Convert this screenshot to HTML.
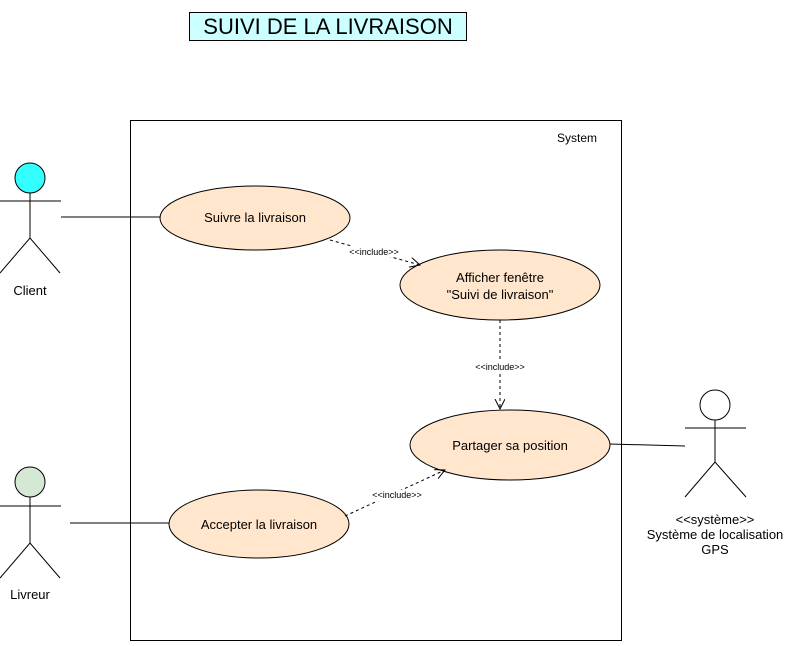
<!DOCTYPE html>
<html><head><meta charset="utf-8"><style>
body{margin:0;background:#fff;width:789px;height:641px;overflow:hidden}
svg{font-family:"Liberation Sans",Arial,sans-serif}
</style></head><body>
<svg width="789" height="641" xmlns="http://www.w3.org/2000/svg">
<defs><marker id="a" markerWidth="12" markerHeight="12" refX="10" refY="5" orient="auto" markerUnits="userSpaceOnUse"><path d="M0,0 L10,5 L0,10" fill="none" stroke="#000" stroke-width="1"/></marker></defs>
<rect x="189.5" y="12.5" width="277" height="28" fill="#ccffff" stroke="#000"/>
<text x="328" y="34" font-size="22" text-anchor="middle">SUIVI DE LA LIVRAISON</text>
<rect x="130.5" y="120.5" width="491" height="520" fill="none" stroke="#000"/>
<text x="597" y="142" font-size="12" text-anchor="end">System</text>
<g stroke="#000" fill="none" stroke-width="1">
<circle cx="30" cy="178" r="15" fill="#33ffff"/>
<line x1="0" y1="201" x2="61" y2="201"/><line x1="30" y1="193" x2="30" y2="238"/>
<polyline points="0,273 30,238 60,273"/>
<circle cx="30" cy="482" r="15" fill="#d5e8d4"/>
<line x1="0" y1="506" x2="61" y2="506"/><line x1="30" y1="497" x2="30" y2="543"/>
<polyline points="0,578 30,543 60,578"/>
<circle cx="715" cy="405" r="15" fill="#fff"/>
<line x1="685" y1="428" x2="746" y2="428"/><line x1="715" y1="420" x2="715" y2="462"/>
<polyline points="685,497 715,462 746,497"/>
<line x1="61" y1="217" x2="160" y2="217"/>
<line x1="70" y1="523" x2="170" y2="523"/>
<line x1="610" y1="444" x2="685" y2="446"/>
</g>
<g fill="#ffe6cc" stroke="#000">
<ellipse cx="255" cy="218" rx="95" ry="32"/>
<ellipse cx="500" cy="285" rx="100" ry="35"/>
<ellipse cx="510" cy="445" rx="100" ry="35"/>
<ellipse cx="259" cy="524" rx="90" ry="34"/>
</g>
<g font-size="13" text-anchor="middle">
<text x="255" y="222">Suivre la livraison</text>
<text x="500" y="282">Afficher fenêtre</text>
<text x="500" y="299">"Suivi de livraison"</text>
<text x="510" y="450">Partager sa position</text>
<text x="259" y="529">Accepter la livraison</text>
<text x="30" y="295">Client</text>
<text x="30" y="599">Livreur</text>
<text x="715" y="524">&lt;&lt;système&gt;&gt;</text>
<text x="715" y="539">Système de localisation</text>
<text x="715" y="554">GPS</text>
</g>
<g stroke="#000" stroke-dasharray="3,3" fill="none" marker-end="url(#a)">
<line x1="330" y1="240" x2="420" y2="265"/>
<line x1="500" y1="320" x2="500" y2="409"/>
<line x1="345" y1="516" x2="445" y2="470"/>
</g>
<g font-size="9" text-anchor="middle">
<rect x="345" y="246" width="60" height="11" fill="#fff"/>
<text x="374" y="255">&lt;&lt;include&gt;&gt;</text>
<rect x="470" y="362" width="60" height="11" fill="#fff"/>
<text x="500" y="370">&lt;&lt;include&gt;&gt;</text>
<rect x="368" y="490" width="60" height="11" fill="#fff"/>
<text x="397" y="498">&lt;&lt;include&gt;&gt;</text>
</g>
</svg>
</body></html>
